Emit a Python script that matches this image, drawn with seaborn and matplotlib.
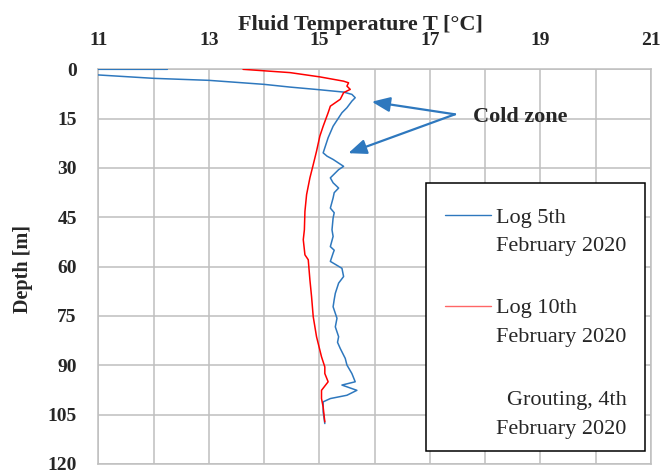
import matplotlib
matplotlib.use("Agg")
import matplotlib.pyplot as plt
from matplotlib.ticker import FixedLocator, FixedFormatter
from matplotlib.patches import Rectangle
import seaborn as sns
import pandas as pd

# ---- data ----
log5_temp = [12.25, 10.6, 10.6, 12.0, 13.0, 14.0, 14.47, 15.0, 15.44, 15.59, 15.65, 15.59,
             15.50, 15.41, 15.25, 15.16, 15.07, 15.14, 15.25, 15.44, 15.35, 15.20, 15.25,
             15.35, 15.27, 15.25, 15.20, 15.27, 15.25, 15.23, 15.25, 15.20, 15.27, 15.25,
             15.20, 15.41, 15.44, 15.35, 15.29, 15.27, 15.25, 15.32, 15.29, 15.35, 15.33,
             15.38, 15.47, 15.50, 15.59, 15.65, 15.41, 15.68, 15.50, 15.20, 15.07, 15.07,
             15.10]
log5_depth = [0.0, 0.0, 1.3, 2.74, 3.35, 4.57, 5.4, 6.2, 6.92, 7.62, 8.63, 9.67,
              11.68, 13.2, 17.3, 20.8, 25.4, 26.4, 27.4, 29.5, 30.5, 33.0, 34.5,
              36.1, 37.5, 39.1, 42.2, 43.6, 45.2, 48.8, 50.8, 53.9, 55.0, 55.9,
              58.4, 60.5, 63.0, 65.0, 68.1, 70.0, 72.2, 75.7, 78.3, 81.3, 83.0,
              84.9, 87.9, 89.9, 92.5, 95.0, 96.0, 97.6, 99.1, 100.1, 101.1, 104.2,
              107.7]

log10_temp = [13.62, 14.47, 15.01, 15.44, 15.53, 15.50, 15.56, 15.44, 15.38, 15.20, 15.16,
              15.07, 15.01, 14.95, 14.89, 14.83, 14.77, 14.74, 14.73, 14.71, 14.74, 14.80,
              14.83, 14.86, 14.89, 14.95, 15.04, 15.10, 15.10, 15.16, 15.04, 15.04, 15.07,
              15.10]
log10_depth = [0.0, 1.0, 2.3, 3.6, 4.1, 5.1, 6.1, 7.1, 9.1, 11.2, 13.2,
               17.3, 20.3, 24.9, 29.0, 33.0, 38.1, 43.2, 48.8, 51.8, 56.4, 57.9,
               64.0, 69.1, 75.2, 81.3, 87.4, 90.5, 92.5, 95.0, 97.6, 100.1, 102.7,
               107.2]

x_ticks = [11, 13, 15, 17, 19, 21]
x_minor = [12, 14, 16, 18, 20]
y_ticks = [0, 15, 30, 45, 60, 75, 90, 105, 120]

series_labels = ["Log 5th\nFebruary 2020", "Log 10th\nFebruary 2020", "Grouting, 4th\nFebruary 2020"]
x_title = "Fluid Temperature T [°C]"
y_title = "Depth [m]"
note = "Cold zone"

BLUE = "#2E78BE"
RED = "#FF0000"
GRID = "#BFBFBF"

sns.set_style("white")
plt.rcParams["font.family"] = ["Liberation Serif", "DejaVu Serif"]

fig = plt.figure(figsize=(6.63, 4.75), dpi=100)
ax = fig.add_axes([0.14827, 0.02316, 0.8333, 0.8309])

df5 = pd.DataFrame({"T": log5_temp, "depth": log5_depth})
df10 = pd.DataFrame({"T": log10_temp, "depth": log10_depth})
sns.lineplot(data=df5, x="T", y="depth", sort=False, estimator=None, color=BLUE, lw=1.1, ax=ax, zorder=3)
sns.lineplot(data=df10, x="T", y="depth", sort=False, estimator=None, color=RED, lw=1.1, ax=ax, zorder=3)

ax.set_xlim(11, 21)
ax.set_ylim(120, 0)

ax.xaxis.tick_top()
ax.xaxis.set_label_position("top")
ax.xaxis.set_major_locator(FixedLocator(x_ticks))
ax.xaxis.set_major_formatter(FixedFormatter([str(v) for v in x_ticks]))
ax.xaxis.set_minor_locator(FixedLocator(x_minor))
ax.yaxis.set_major_locator(FixedLocator(y_ticks))
ax.yaxis.set_major_formatter(FixedFormatter([str(v) for v in y_ticks]))
ax.tick_params(axis="x", which="both", length=0, pad=14.5, labelsize=14)
ax.tick_params(axis="y", which="both", length=0, pad=15.5, labelsize=14)
for t in ax.xaxis.get_major_ticks():
    t.label1.set_fontweight("bold")
    t.label2.set_fontweight("bold")
for t in ax.yaxis.get_major_ticks():
    t.label1.set_fontweight("bold")

ax.grid(True, which="both", axis="x", color=GRID, lw=1.1)
ax.grid(True, which="major", axis="y", color=GRID, lw=1.1)
ax.set_axisbelow(True)
for sp in ax.spines.values():
    sp.set_visible(True)
    sp.set_color(GRID)
    sp.set_linewidth(1.1)

ax.set_xlabel(x_title, fontsize=16, fontweight="bold")
ax.xaxis.label.set_va("baseline")
ax.xaxis.set_label_coords(0.4737, 1.099)
ax.set_ylabel(y_title, fontsize=14.5, fontweight="bold")
ax.yaxis.label.set_va("center")
ax.yaxis.set_label_coords(-0.136, 0.495)

# Cold zone annotation
ax.text(17.78, 14.45, note, fontsize=16, fontweight="bold", ha="left", va="center", zorder=6)
tail = (17.456, 13.68)
for head in [(15.95, 9.85), (15.525, 25.5)]:
    ax.annotate("", xy=head, xytext=tail,
                arrowprops=dict(arrowstyle="-|>,head_length=1.1,head_width=0.45",
                                mutation_scale=10, color=BLUE, lw=1.6,
                                shrinkA=0, shrinkB=0), zorder=6)

# Legend box (drawn manually to mimic the reference layout)
box = Rectangle((16.93, 34.57), 20.894 - 16.93, 116.05 - 34.57, facecolor="white",
                edgecolor="black", lw=1.1, zorder=4)
ax.add_patch(box)
ax.plot([17.28, 18.11], [44.3, 44.3], color=BLUE, lw=1.0, zorder=5)
ax.plot([17.28, 18.11], [72.1, 72.1], color=RED, lw=1.0, zorder=5, alpha=0.6)
tx = 18.207
lines = [ln for lab in series_labels for ln in lab.split("\n")]
baselines = [46.58, 55.24, 74.09, 82.91, 101.91, 110.73]
texts = []
for i, (ln, yb) in enumerate(zip(lines, baselines)):
    if i == 4:
        texts.append(None)
        continue
    texts.append(ax.text(tx, yb, ln, fontsize=16, ha="left", va="baseline", zorder=5))
fig.canvas.draw()
bb = texts[5].get_window_extent()
xr = ax.transData.inverted().transform((bb.x1, bb.y0))[0]
ax.text(xr, baselines[4], lines[4], fontsize=16, ha="right", va="baseline", zorder=5)

fig.savefig("out.png", dpi=100)
